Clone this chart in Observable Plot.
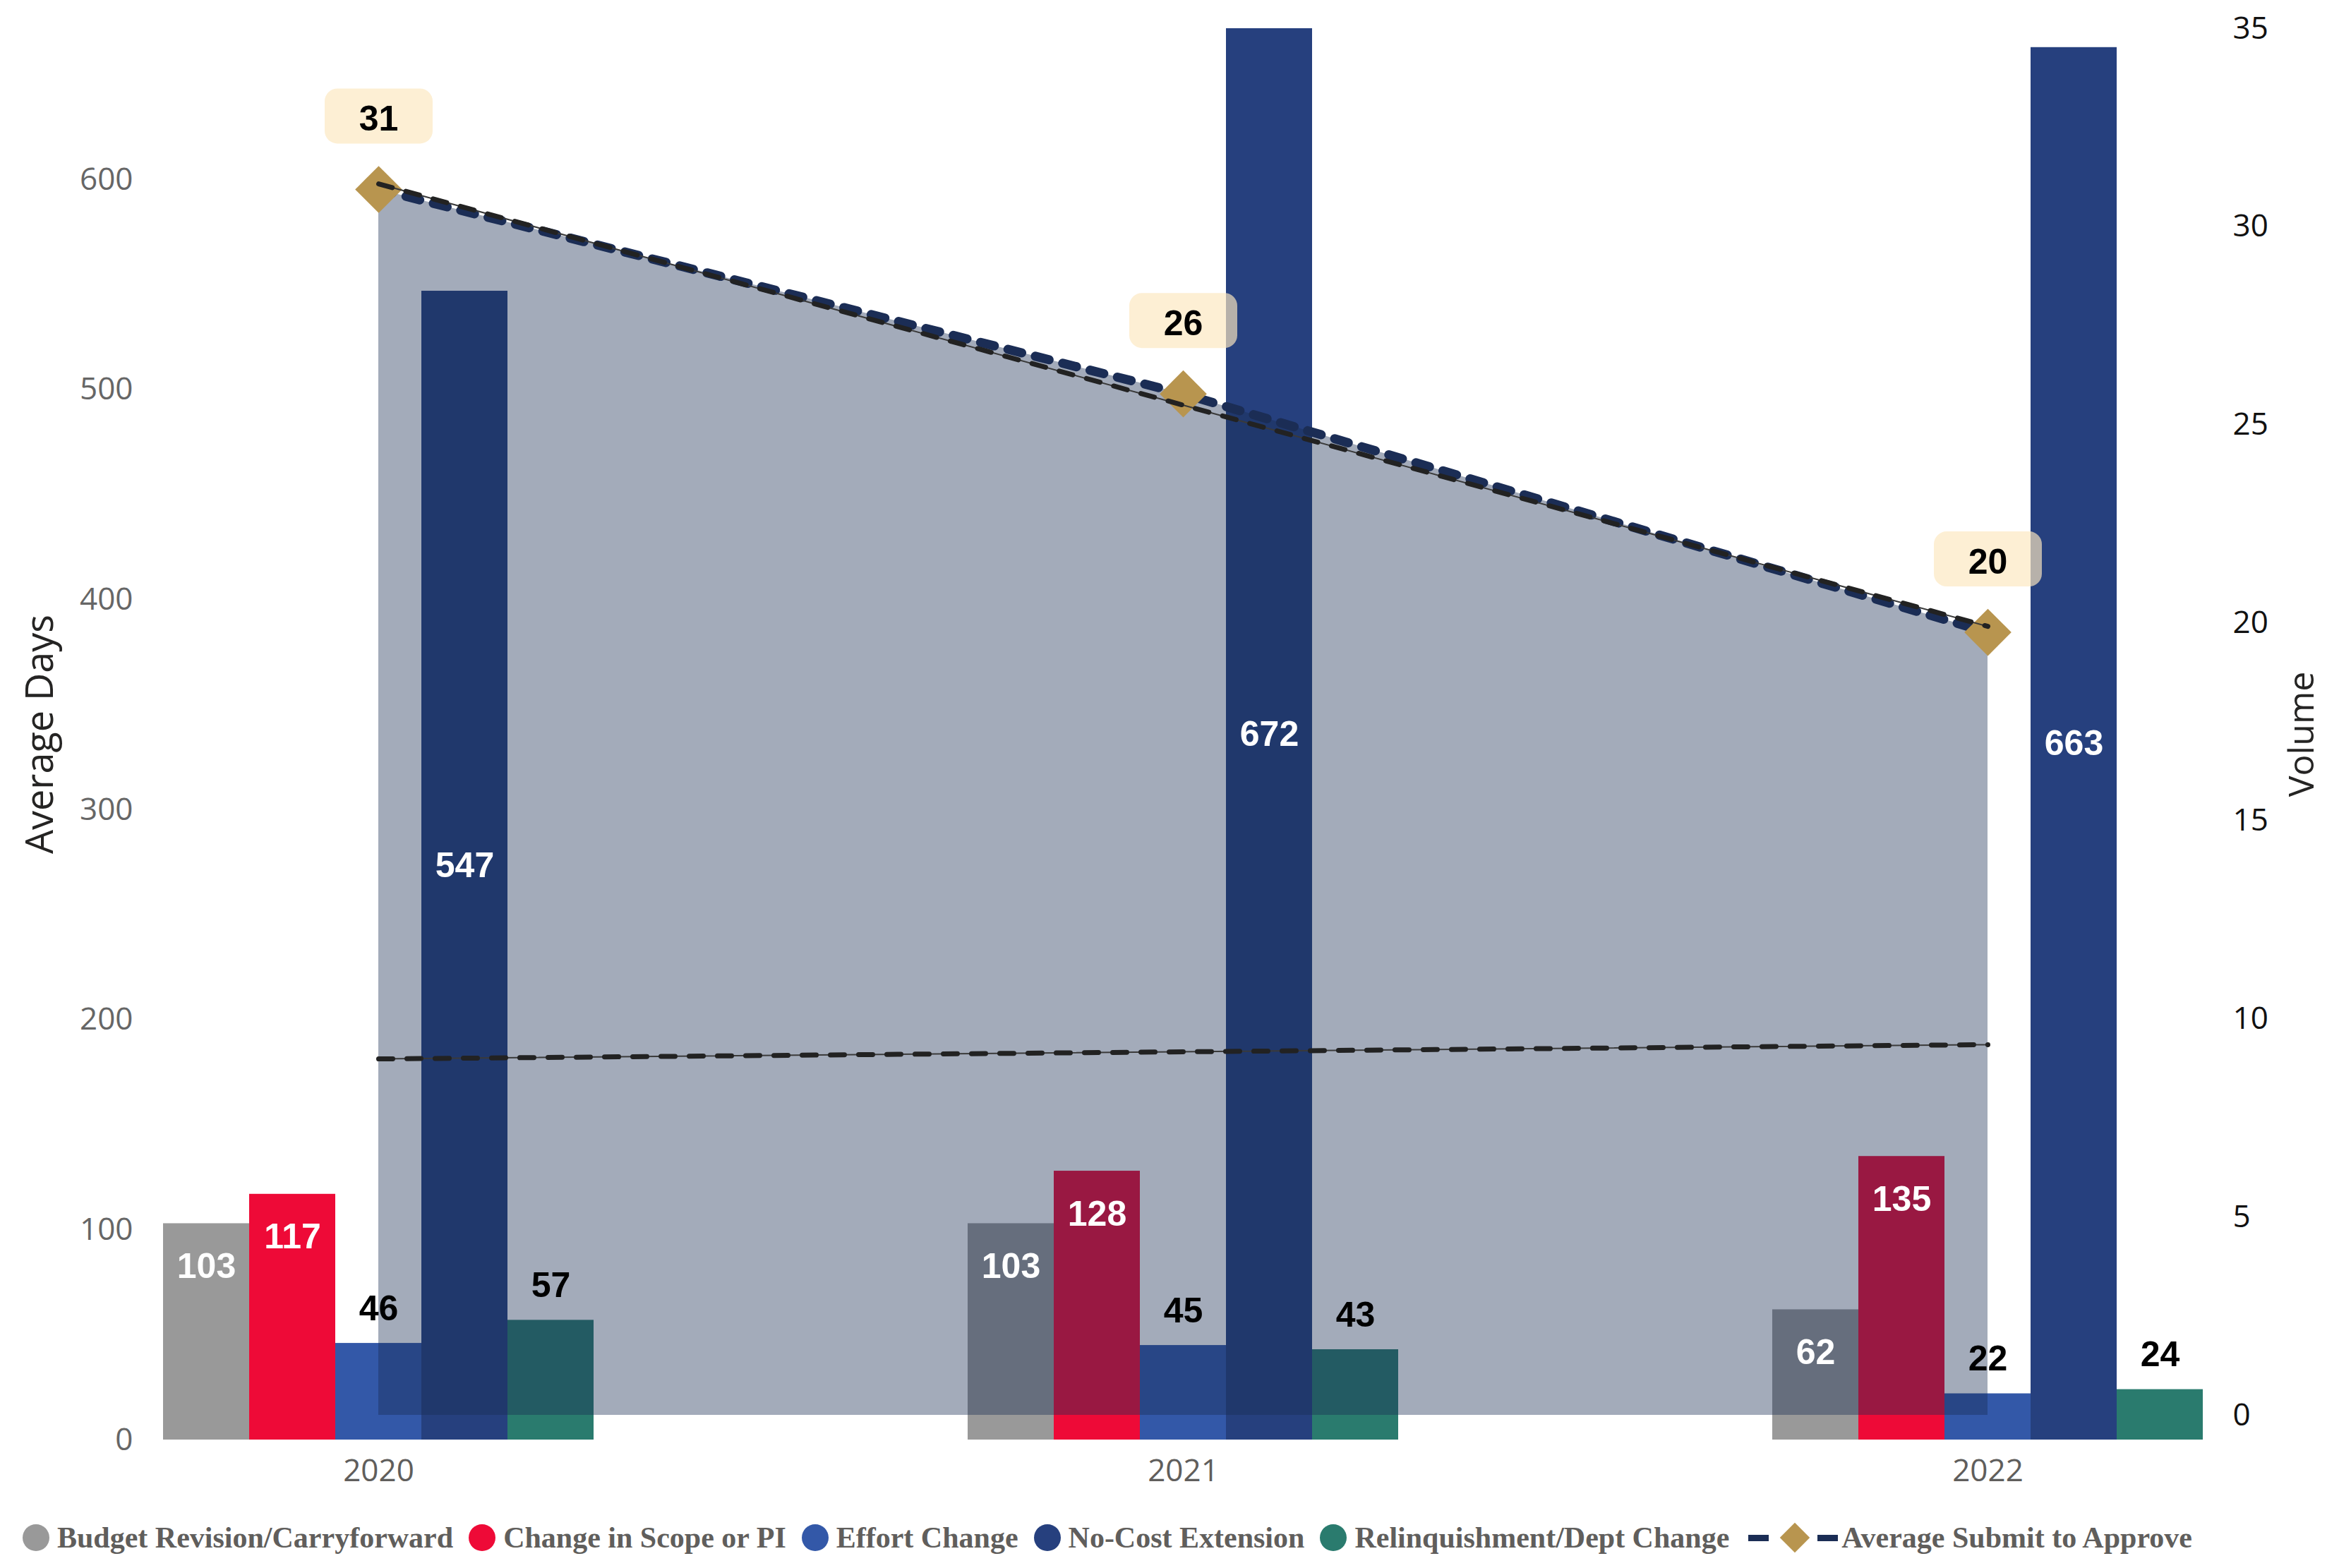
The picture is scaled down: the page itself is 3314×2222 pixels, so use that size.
<!DOCTYPE html>
<html>
<head>
<meta charset="utf-8">
<script src="https://cdn.jsdelivr.net/npm/d3@7"></script>
<script src="https://cdn.jsdelivr.net/npm/@observablehq/plot@0.6"></script>
<style>
  html, body { margin: 0; padding: 0; background: #fff; }
  #chart { width: 3314px; height: 2140px; }
  #legend { display: flex; align-items: center; height: 78px; padding-left: 32px;
    font-family: "Liberation Serif", "DejaVu Serif", serif; font-weight: bold; font-size: 42px;
    color: #605E5C; white-space: nowrap; }
  .item { display: flex; align-items: center; margin-right: 22px; }
  .sw { width: 38px; height: 38px; border-radius: 50%; margin-right: 11px; flex: none; }
  .dash { width: 29px; height: 9px; background: #1B2D55; flex: none; }
  .dia { width: 30px; height: 30px; background: #B8954F; transform: rotate(45deg); margin: 0 17px 0 22px; flex: none; }
</style>
</head>
<body>
<div id="chart"></div>
<div id="legend"></div>
<script>
// ---------- data ----------
const years = ["2020", "2021", "2022"];
const categories = ["Budget Revision/Carryforward", "Change in Scope or PI", "Effort Change", "No-Cost Extension", "Relinquishment/Dept Change"];
const budgetRevision = [103, 103, 62];
const changeInScope = [117, 128, 135];
const effortChange = [46, 45, 22];
const noCostExtension = [547, 672, 663];
const relinquishment = [57, 43, 24];
const avgSubmitToApprove = [30.94, 25.78, 19.76];     // right axis (Volume)
const avgSubmitTrendYears = ["2020", "2022"];
const avgSubmitTrend = [31.08, 19.91];                 // right axis trend line
const avgDaysTrend = [181.4, 188.2];                   // left axis trend line
const leftTicks = [0, 100, 200, 300, 400, 500, 600];
const rightTicks = [0, 5, 10, 15, 20, 25, 30, 35];
const legendSeriesName = "Average Submit to Approve";

// ---------- styling ----------
const colors = ["#999999", "#EE0A37", "#3358A8", "#26407E", "#2A7B6E"];
const labelMode = ["inside", "inside", "above", "middle", "above"];
const BAR_W = 122;
// secondary (right) axis mapping into left-axis units
const RIGHT_OFFSET = 11.76, RIGHT_RATIO = 18.864;
const toLeft = v => RIGHT_OFFSET + v * RIGHT_RATIO;
const fromLeft = y => (y - RIGHT_OFFSET) / RIGHT_RATIO;

const series = [budgetRevision, changeInScope, effortChange, noCostExtension, relinquishment];
const rows = categories.flatMap((c, j) => years.map((y, i) => ({year: y, category: c, value: series[j][i]})));
const avgRows = years.map((y, i) => ({year: y, value: avgSubmitToApprove[i]}));
const avgTrendRows = avgSubmitTrendYears.map((y, i) => ({year: y, value: avgSubmitTrend[i]}));
const daysTrendRows = avgSubmitTrendYears.map((y, i) => ({year: y, value: avgDaysTrend[i]}));

const roundedBox = {
  draw(ctx) {
    const w = 153, h = 78, r = 18, x0 = -w / 2, y0 = -h / 2, x1 = w / 2, y1 = h / 2;
    ctx.moveTo(x0 + r, y0);
    ctx.lineTo(x1 - r, y0); ctx.arcTo(x1, y0, x1, y0 + r, r);
    ctx.lineTo(x1, y1 - r); ctx.arcTo(x1, y1, x1 - r, y1, r);
    ctx.lineTo(x0 + r, y1); ctx.arcTo(x0, y1, x0, y1 - r, r);
    ctx.lineTo(x0, y0 + r); ctx.arcTo(x0, y0, x0 + r, y0, r);
    ctx.closePath();
  }
};

const numFont = {fontFamily: "Liberation Sans, Arial, sans-serif", fontWeight: "bold", fontSize: 50};

const barMarks = categories.map((c, j) =>
  Plot.barY(rows.filter(r => r.category === c), {x: "year", y: "value", fill: colors[j], dx: (j - 2) * BAR_W}));

const barLabelMarks = categories.map((c, j) => {
  const data = rows.filter(r => r.category === c);
  const mode = labelMode[j];
  return Plot.text(data, {
    x: "year",
    y: mode === "middle" ? d => d.value / 2 : "value",
    text: d => String(d.value),
    dx: (j - 2) * BAR_W,
    dy: mode === "inside" ? 61 : mode === "above" ? -49 : 0,
    fill: mode === "above" ? "#000" : "#fff",
    ...numFont
  });
});

const chart = Plot.plot({
  width: 3314,
  height: 2140,
  marginTop: 40,
  marginBottom: 100,
  marginLeft: 193,
  marginRight: 155,
  style: {background: "white", fontFamily: "Open Sans, sans-serif"},
  x: {type: "band", domain: years, paddingInner: 0.893, paddingOuter: 0.2465, axis: null},
  y: {domain: [0, 672], axis: null},
  marks: [
    ...barMarks,
    Plot.areaY(avgRows, {x: "year", y1: () => toLeft(0), y2: d => toLeft(d.value), fill: "#1A2C53", fillOpacity: 0.4}),
    Plot.line(daysTrendRows, {x: "year", y: "value", stroke: "#3A3A3A", strokeWidth: 2}),
    Plot.line(daysTrendRows, {x: "year", y: "value", stroke: "#222", strokeWidth: 7, strokeDasharray: "20 20"}),
    Plot.line(avgRows, {x: "year", y: d => toLeft(d.value), stroke: "#1B2D55", strokeWidth: 13, strokeDasharray: "20 20", strokeLinecap: "round"}),
    Plot.dot(avgRows, {x: "year", y: d => toLeft(d.value), symbol: "diamond2", r: 30, fill: "#B8954F", stroke: null}),
    Plot.line(avgTrendRows, {x: "year", y: d => toLeft(d.value), stroke: "#3A3A3A", strokeWidth: 2}),
    Plot.line(avgTrendRows, {x: "year", y: d => toLeft(d.value), stroke: "#222", strokeWidth: 7, strokeDasharray: "20 20"}),
    Plot.dot(avgRows, {x: "year", y: d => toLeft(d.value), symbol: roundedBox, r: 1, fill: "#FCE8C0", fillOpacity: 0.68, stroke: null, dy: -104}),
    Plot.text(avgRows, {x: "year", y: d => toLeft(d.value), text: d => d3.format(".0f")(d.value), dy: -99, fill: "#000", ...numFont}),
    ...barLabelMarks,
    Plot.axisY(leftTicks, {anchor: "left", tickSize: 0, tickPadding: 5, label: null, fill: "#666666", fontSize: 44, fontFamily: "Open Sans, sans-serif"}),
    Plot.axisY(rightTicks.map(toLeft), {anchor: "right", tickSize: 0, tickPadding: 4, label: null, fill: "#111111", fontSize: 44, fontFamily: "Open Sans, sans-serif",
      tickFormat: d => String(Math.round(fromLeft(d)))}),
    Plot.axisX({anchor: "bottom", tickSize: 0, tickPadding: 27, label: null, fill: "#605E5C", fontSize: 44, fontFamily: "Open Sans, sans-serif"}),
    Plot.text(["Average Days"], {frameAnchor: "left", textAnchor: "middle", text: d => d, dx: -136, rotate: -90, fontSize: 54, fill: "#252423", fontFamily: "Open Sans, sans-serif"}),
    Plot.text(["Volume"], {frameAnchor: "right", textAnchor: "middle", text: d => d, dx: 102, rotate: -90, fontSize: 50, fill: "#252423", fontFamily: "Open Sans, sans-serif"})
  ]
});
document.getElementById("chart").appendChild(chart);

// ---------- legend ----------
const legend = document.getElementById("legend");
categories.forEach((c, j) => {
  const item = document.createElement("div");
  item.className = "item";
  const sw = document.createElement("div");
  sw.className = "sw";
  sw.style.background = colors[j];
  const t = document.createElement("span");
  t.textContent = c;
  item.appendChild(sw); item.appendChild(t);
  legend.appendChild(item);
});
{
  const item = document.createElement("div");
  item.className = "item";
  item.style.marginLeft = "5px";
  const d1 = document.createElement("div"); d1.className = "dash";
  const dm = document.createElement("div"); dm.className = "dia";
  const d2 = document.createElement("div"); d2.className = "dash"; d2.style.marginRight = "5px";
  const t = document.createElement("span"); t.textContent = legendSeriesName;
  item.append(d1, dm, d2, t);
  legend.appendChild(item);
}
</script>
</body>
</html>
